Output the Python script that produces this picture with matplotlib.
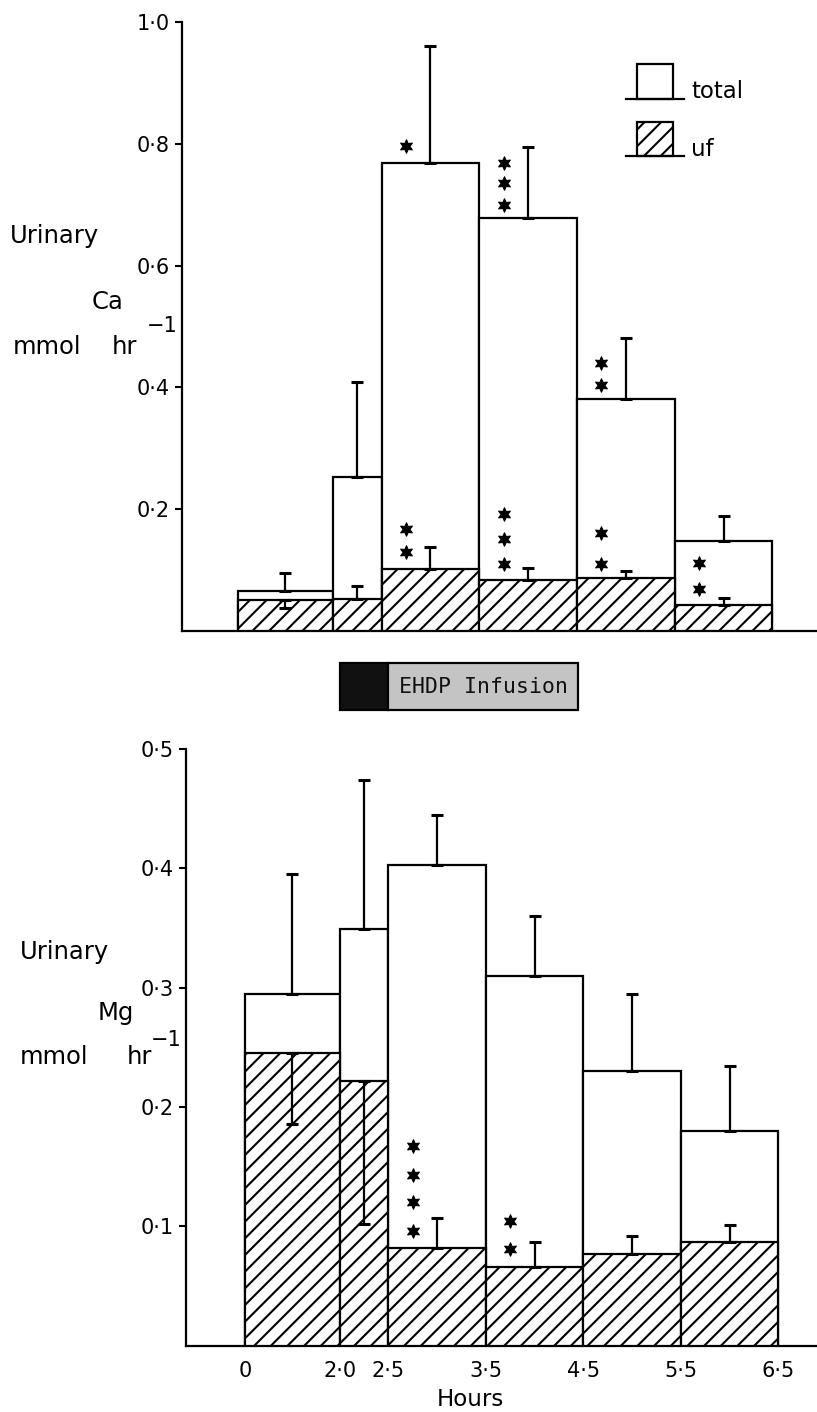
import numpy as np
import matplotlib
matplotlib.use("Agg")
import matplotlib.pyplot as plt
from matplotlib.patches import Rectangle
from matplotlib.lines import Line2D
import matplotlib.transforms as mtransforms

# ---------------- data ----------------
hour_edges = [0.0, 2.0, 2.5, 3.5, 4.5, 5.5, 6.5]
hour_labels = ["0", "2·0", "2·5", "3·5", "4·5", "5·5", "6·5"]

# Urinary Ca (mmol hr^-1)
ca_total = [0.066, 0.253, 0.768, 0.678, 0.381, 0.148]
ca_total_err = [0.029, 0.156, 0.193, 0.116, 0.100, 0.041]
ca_uf = [0.051, 0.053, 0.102, 0.083, 0.087, 0.042]
ca_uf_err_up = [0.0, 0.021, 0.036, 0.020, 0.011, 0.012]
ca_uf_err_down = [0.014, 0.0, 0.0, 0.0, 0.0, 0.0]
ca_yticks = [0.2, 0.4, 0.6, 0.8, 1.0]
ca_yticklabels = ["0·2", "0·4", "0·6", "0·8", "1·0"]

# Urinary Mg (mmol hr^-1)
mg_total = [0.295, 0.349, 0.403, 0.310, 0.230, 0.180]
mg_total_err = [0.100, 0.125, 0.042, 0.050, 0.065, 0.054]
mg_uf = [0.245, 0.222, 0.082, 0.066, 0.077, 0.087]
mg_uf_err_up = [0.0, 0.0, 0.025, 0.021, 0.015, 0.014]
mg_uf_err_down = [0.059, 0.120, 0.0, 0.0, 0.0, 0.0]
mg_yticks = [0.1, 0.2, 0.3, 0.4, 0.5]
mg_yticklabels = ["0·1", "0·2", "0·3", "0·4", "0·5"]

# significance stars: (bar index, star y-values)
ca_stars = [(2, [0.796]), (2, [0.167, 0.130]),
            (3, [0.768, 0.736, 0.699]), (3, [0.192, 0.151, 0.110]),
            (4, [0.440, 0.404]), (4, [0.161, 0.110]),
            (5, [0.112, 0.069])]
mg_stars = [(2, [0.167, 0.143, 0.120, 0.096]), (3, [0.104, 0.081])]

infusion_bolus = (2.0, 2.5)
infusion_end = 4.45

# ---------------- style ----------------
plt.rcParams["font.family"] = ["DejaVu Sans"]
plt.rcParams["hatch.linewidth"] = 1.5
LW = 1.6
TICK_FS = 15

W, H = 817, 1412
fig = plt.figure(figsize=(W / 100, H / 100), dpi=100)
fig.patch.set_facecolor("white")


def fx(px):
    return px / W


def fy(py):
    return 1 - py / H


SEG = 0.97  # visual length of the 0-2 h interval


def fwd(h):
    h = np.asarray(h, float)
    return np.where(h <= 2.0, h * SEG / 2.0, SEG + (h - 2.0))


def inv(u):
    u = np.asarray(u, float)
    return np.where(u <= SEG, u * 2.0 / SEG, 2.0 + (u - SEG))


def draw_panel(ax, total, total_err, uf, uf_up, uf_down, stars, ymax,
               yticks, yticklabels, u0_px, unit_px, left_px):
    ax.set_xscale("function", functions=(fwd, inv))
    left = np.array(hour_edges[:-1])
    widths = np.diff(hour_edges)
    centers = left + widths / 2
    ax.bar(left, total, width=widths, align="edge", facecolor="white",
           edgecolor="black", linewidth=LW, zorder=2)
    ax.bar(left, uf, width=widths, align="edge", facecolor="white",
           edgecolor="black", hatch="//", linewidth=LW, zorder=3)
    ax.errorbar(centers, total, yerr=[np.zeros(len(total)), total_err],
                fmt="none", ecolor="black", elinewidth=LW, capsize=4.3,
                capthick=2.2, zorder=4)
    up = np.array(uf_up)
    dn = np.array(uf_down)
    mask = (up + dn) > 0
    ax.errorbar(centers[mask], np.array(uf)[mask],
                yerr=[dn[mask], up[mask]], fmt="none", ecolor="black",
                elinewidth=LW, capsize=4.3, capthick=2.2, zorder=4)
    for idx, ys in stars:
        xs = np.full(len(ys), centers[idx] - 0.25)
        ax.scatter(xs, ys, marker=(6, 1, 0), s=95, color="black",
                   linewidths=0.8, zorder=5)
    ax.set_ylim(0, ymax)
    ax.set_xlim(float(inv((left_px - u0_px) / unit_px)),
                float(inv((W - u0_px) / unit_px)))
    for s in ("top", "right"):
        ax.spines[s].set_visible(False)
    for s in ("left", "bottom"):
        ax.spines[s].set_linewidth(LW)
    ax.set_yticks(yticks)
    ax.set_yticklabels(yticklabels)
    ax.tick_params(axis="y", direction="out", length=5, width=1.5,
                   labelsize=TICK_FS, pad=4)
    ax.patch.set_alpha(0)


# ---------------- top panel (Ca) ----------------
ax1 = fig.add_axes([fx(182), fy(631), fx(W) - fx(182), fy(22) - fy(631)])
draw_panel(ax1, ca_total, ca_total_err, ca_uf, ca_uf_err_up, ca_uf_err_down,
           ca_stars, 1.0, ca_yticks, ca_yticklabels, 238, 97.7, 182)
ax1.set_xticks([])

# ---------------- bottom panel (Mg) ----------------
ax2 = fig.add_axes([fx(186), fy(1345.5), fx(W) - fx(186), fy(749) - fy(1345.5)])
draw_panel(ax2, mg_total, mg_total_err, mg_uf, mg_uf_err_up, mg_uf_err_down,
           mg_stars, 0.5, mg_yticks, mg_yticklabels, 245, 97.5, 186)
ax2.set_xticks(hour_edges)
ax2.set_xticklabels(hour_labels)
ax2.tick_params(axis="x", length=0, labelsize=TICK_FS, pad=11)
fig.text(fx(470), fy(1400), "Hours", ha="center", va="center", fontsize=16.5)

# ---------------- y labels ----------------
LS = 17.5
fig.text(fx(10), fy(236), "Urinary", ha="left", va="center", fontsize=LS)
fig.text(fx(92), fy(302), "Ca", ha="left", va="center", fontsize=LS)
fig.text(fx(13), fy(347), "mmol", ha="left", va="center", fontsize=LS)
fig.text(fx(112), fy(347), "hr", ha="left", va="center", fontsize=LS)
fig.text(fx(147), fy(326), "\u22121", ha="left", va="center", fontsize=15)

fig.text(fx(20), fy(952), "Urinary", ha="left", va="center", fontsize=LS)
fig.text(fx(98), fy(1013), "Mg", ha="left", va="center", fontsize=LS)
fig.text(fx(20), fy(1057), "mmol", ha="left", va="center", fontsize=LS)
fig.text(fx(127), fy(1057), "hr", ha="left", va="center", fontsize=LS)
fig.text(fx(151), fy(1040), "\u22121", ha="left", va="center", fontsize=15)

# ---------------- legend ----------------
fig.add_artist(Rectangle((fx(637), fy(99)), fx(673) - fx(637), fy(64) - fy(99),
                         transform=fig.transFigure, facecolor="white",
                         edgecolor="black", linewidth=LW))
fig.add_artist(Line2D([fx(626), fx(684)], [fy(99), fy(99)],
                      transform=fig.transFigure, color="black", linewidth=LW))
fig.text(fx(691), fy(92), "total", ha="left", va="center", fontsize=16.5)
fig.add_artist(Rectangle((fx(637), fy(156)), fx(673) - fx(637), fy(122) - fy(156),
                         transform=fig.transFigure, facecolor="white",
                         edgecolor="black", hatch="//", linewidth=LW))
fig.add_artist(Line2D([fx(626), fx(684)], [fy(156), fy(156)],
                      transform=fig.transFigure, color="black", linewidth=LW))
fig.text(fx(691), fy(149), "uf", ha="left", va="center", fontsize=16.5)

# ---------------- EHDP infusion bar ----------------
trans = mtransforms.blended_transform_factory(ax2.transData, fig.transFigure)
fig.add_artist(Rectangle((infusion_bolus[0], fy(710)),
                         infusion_bolus[1] - infusion_bolus[0], fy(663) - fy(710),
                         transform=trans, facecolor="#111111",
                         edgecolor="black", linewidth=LW))
fig.add_artist(Rectangle((infusion_bolus[1], fy(710)),
                         infusion_end - infusion_bolus[1], fy(663) - fy(710),
                         transform=trans, facecolor="#c4c4c4",
                         edgecolor="black", linewidth=LW))
fig.text((infusion_bolus[1] + infusion_end) / 2, fy(687), "EHDP Infusion",
         transform=trans, ha="center", va="center", fontsize=15.5,
         family="DejaVu Sans Mono", color="#111111")

fig.savefig("out.png", dpi=100, facecolor="white")
